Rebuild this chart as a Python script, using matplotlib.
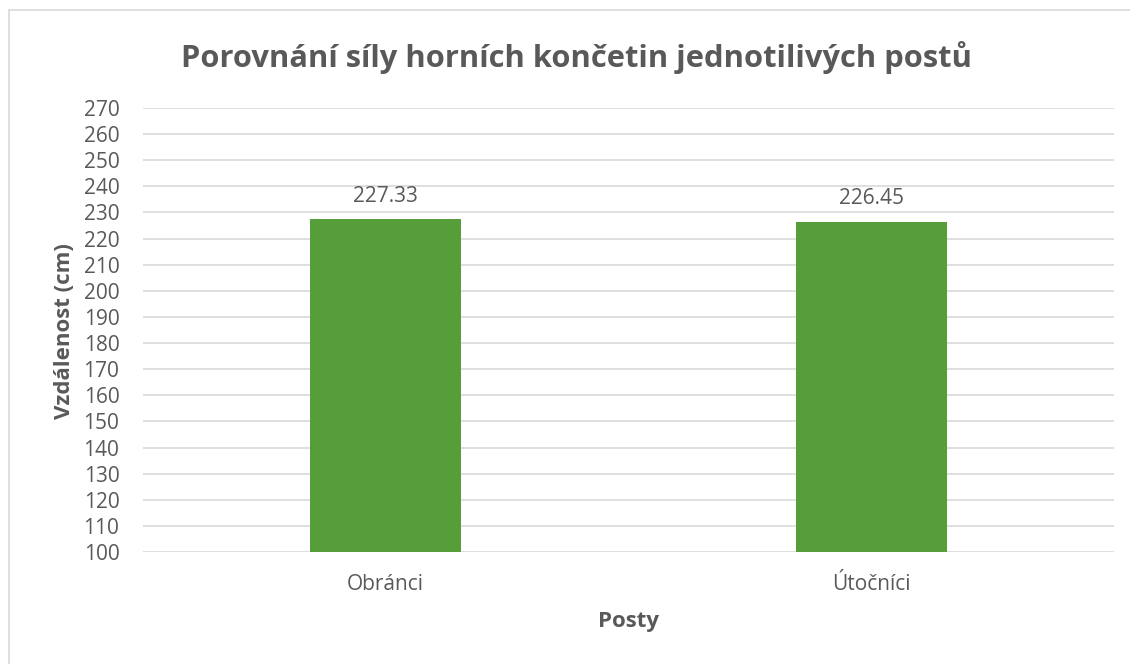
import matplotlib as mpl
mpl.use('Agg')
import matplotlib.pyplot as plt
from matplotlib.patches import Rectangle

categories = ['Obránci', 'Útočníci']
values = [227.33, 226.45]
yticks = list(range(100, 280, 10))

TEXT = '#595959'
GREEN = '#559E3A'
GRID = '#D9D9D9'

plt.rcParams['font.family'] = ['Open Sans', 'DejaVu Sans']

fig = plt.figure(figsize=(11.3, 6.64), dpi=100)
W, H = 1130, 664

# outer chart frame (only left/top edges visible in the crop)
fig.patches.append(Rectangle((9 / W, -0.1), 1.2, (H - 10) / H + 0.1,
                             transform=fig.transFigure, fill=False,
                             edgecolor='#D9D9D9', lw=1.2))

left, right = 143 / W, 1114 / W
bottom, top = 1 - 552 / H, 1 - 108 / H
ax = fig.add_axes([left, bottom, right - left, top - bottom])

x = range(len(categories))
bars = ax.bar(x, values, width=0.31, color=GREEN, zorder=3)
ax.set_xlim(-0.5, len(categories) - 0.5)
ax.set_ylim(100, 270)
ax.set_yticks(yticks)
ax.set_xticks(list(x))
ax.set_xticklabels(categories)
ax.tick_params(axis='both', length=0, colors=TEXT, labelsize=15)
ax.tick_params(axis='x', pad=16)
ax.tick_params(axis='y', pad=17)
ax.grid(axis='y', color=GRID, lw=1.2, zorder=0)
for s in ax.spines.values():
    s.set_visible(False)

for xi, v in zip(x, values):
    ax.annotate(f'{v:.2f}', (xi, v), xytext=(0, 9), textcoords='offset points',
                ha='center', va='bottom', fontsize=15, color=TEXT)

fig.text(65 / W, 1 - 331 / H, 'Vzdálenost (cm)', rotation=90, ha='center', va='center',
         fontsize=16, fontweight='bold', color=TEXT)
fig.text(628 / W, 1 - 622 / H, 'Posty', ha='center', va='center',
         fontsize=16, fontweight='bold', color=TEXT)

fig.text(576 / W, 1 - 57 / H,
         'Porovnání síly horních končetin jednotilivých postů',
         ha='center', va='center', fontsize=22.2, fontweight='bold', color=TEXT)

fig.savefig('out.png', dpi=100, facecolor='white')
